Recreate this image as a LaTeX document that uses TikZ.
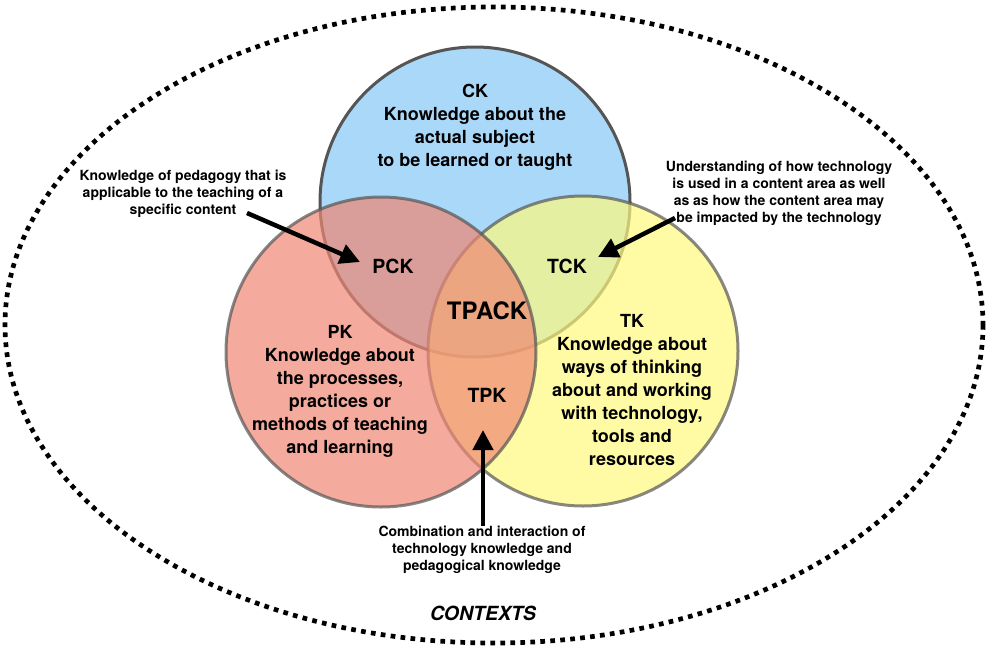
\documentclass[tikz,border=0pt]{standalone}
\usepackage{fontspec}
\setmainfont{TeX Gyre Heros}
\usepackage{tikz}
\usetikzlibrary{arrows.meta}
\definecolor{ckblue}{HTML}{AAD8F9}
\definecolor{pkred}{RGB}{239,134,115}
\definecolor{tkyellow}{RGB}{254,249,125}
\definecolor{rim}{HTML}{555555}
\tikzset{
  ring/.style={draw=rim, line width=3pt},
  ctx/.style={draw=black, line width=4.7pt, dash pattern=on 4.7pt off 5.3pt},
  body/.style={font=\bfseries\fontsize{18}{23}\selectfont, align=center, inner sep=0pt},
  tag/.style={font=\bfseries\fontsize{19.5}{22}\selectfont, inner sep=0pt},
  note/.style={font=\bfseries\fontsize{14}{17}\selectfont, align=center, inner sep=0pt},
  arr/.style={draw=black, line width=4.5pt, -{Triangle[length=20pt,width=20pt]}}
}

\begin{document}
\begin{tikzpicture}[x=1pt, y=-1pt]
  \useasboundingbox (0,0) rectangle (991,648);

  % contexts
  \draw[ctx] (494,325) ellipse [x radius=489, y radius=318];

  % the three circles
  \coordinate (C) at (475,202);
  \coordinate (T) at (583,351);
  \coordinate (P) at (381,352);
  \filldraw[ring, fill=ckblue] (C) circle (155);
  \filldraw[ring, fill=tkyellow, opacity=0.7] (T) circle (155);
  \filldraw[ring, fill=pkred, opacity=0.7] (P) circle (155);

  \node[body] (ck) at (475,127) {CK\\Knowledge about the\\actual subject\\to be learned or taught};
  \node[body] (pk) at (340,391) {PK\\Knowledge about\\the processes,\\practices or\\methods of teaching\\and learning};
  \node[body] (tk) at (632,390) {TK\\Knowledge about\\ways of thinking\\about and working\\with technology,\\tools and\\resources};

  \node[tag] (pck) at (393,266) {PCK};
  \node[tag] (tck) at (567,266) {TCK};
  \node[tag] (tpk) at (487,395) {TPK};
  \node[font=\bfseries\fontsize{24}{26}\selectfont, inner sep=0pt] (tpack) at (487,311) {TPACK};

  \node[note] (pcknote) at (183,194) {Knowledge of pedagogy that is\\applicable to the teaching of a\\specific content};
  \node[note] (tcknote) at (779,193) {Understanding of how technology\\is used in a content area as well\\as as how the content area may\\be impacted by the technology};
  \node[note] (tpknote) at (482,550) {Combination and interaction of\\technology knowledge and\\pedagogical knowledge};

  \node[font=\bfseries\itshape\fontsize{19.5}{22}\selectfont, inner sep=0pt] (contexts) at (483,613) {CONTEXTS};

  % arrows
  \coordinate (pcktail) at (247,213);
  \coordinate (pcktip) at (360,262);
  \coordinate (tcktail) at (675,218);
  \coordinate (tcktip) at (598,257);
  \coordinate (tpktail) at (483,526);
  \coordinate (tpktip) at (483,430);
  \draw[arr] (pcktail) -- (pcktip);
  \draw[arr] (tcktail) -- (tcktip);
  \draw[arr] (tpktail) -- (tpktip);
\end{tikzpicture}
\end{document}
